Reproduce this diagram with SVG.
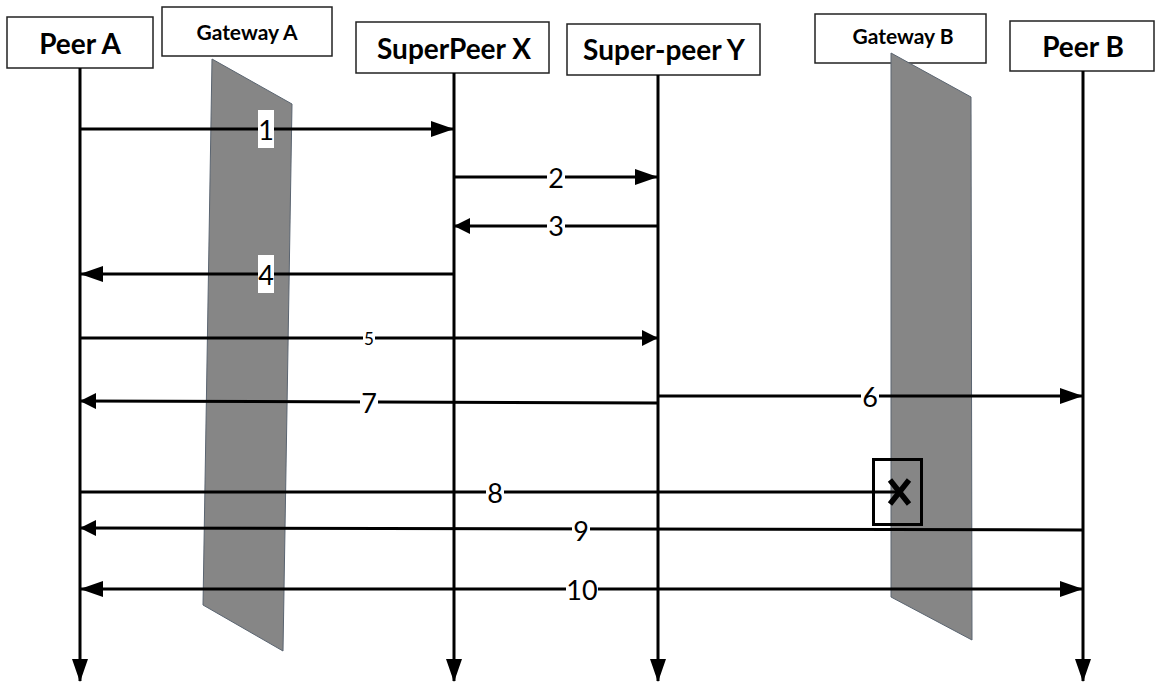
<svg xmlns="http://www.w3.org/2000/svg" width="1155" height="683" viewBox="0 0 1155 683">
  <style>
    .box { fill: #ffffff; stroke: #222222; stroke-width: 1.5; }
    .hdr { font-family: Lato, "Liberation Sans", sans-serif; font-weight: bold; fill: #000; text-anchor: middle; }
    .life { stroke: #000; stroke-width: 3; fill: none; }
    .msg { stroke: #000; stroke-width: 3; fill: none; }
    .num { font-family: Lato, "Liberation Sans", sans-serif; fill: #000; text-anchor: middle; dominant-baseline: central; }
    .bg { fill: #ffffff; }
    .gw { fill: #868686; stroke: #5a6470; stroke-width: 1; }
  </style>
  <defs>
    <marker id="ah" markerUnits="userSpaceOnUse" markerWidth="23" markerHeight="16" refX="22" refY="8" orient="auto">
      <path d="M0,0 L23,8 L0,16 z" fill="#000"/>
    </marker>
    <marker id="ahs" markerUnits="userSpaceOnUse" markerWidth="16" markerHeight="16" refX="15" refY="8" orient="auto">
      <path d="M0,0 L16,8 L0,16 z" fill="#000"/>
    </marker>
    <marker id="ahStart" markerUnits="userSpaceOnUse" markerWidth="23" markerHeight="16" refX="1" refY="8" orient="auto">
      <path d="M23,0 L0,8 L23,16 z" fill="#000"/>
    </marker>
  </defs>

  <rect width="1155" height="683" fill="#ffffff"/>

  <!-- Gateway shapes -->
  <g id="gateway-a">
    <rect class="box" x="162" y="7" width="170" height="49"/>
    <text class="hdr" x="247" y="40" font-size="21">Gateway A</text>
    <polygon class="gw" points="212,59 292,104 283,651 203,605"/>
  </g>
  <g id="gateway-b">
    <rect class="box" x="815" y="14" width="171" height="49"/>
    <polygon class="gw" points="891,53 971,97 972,640 891,597"/>
    <text class="hdr" x="903" y="44" font-size="21">Gateway B</text>
  </g>

  <!-- Participants -->
  <g id="peer-a">
    <rect class="box" x="7" y="17" width="146" height="51"/>
    <text class="hdr" x="80" y="54" font-size="28">Peer A</text>
  </g>
  <g id="superpeer-x">
    <rect class="box" x="356" y="22" width="193" height="51"/>
    <text class="hdr" x="454" y="59" font-size="28">SuperPeer X</text>
  </g>
  <g id="superpeer-y">
    <rect class="box" x="567" y="24" width="193" height="51"/>
    <text class="hdr" x="664" y="60" font-size="28">Super-peer Y</text>
  </g>
  <g id="peer-b">
    <rect class="box" x="1010" y="21" width="144" height="50"/>
    <text class="hdr" x="1083" y="57" font-size="28">Peer B</text>
  </g>

  <!-- Connectors -->
  <g id="connectors">
    <!-- lifelines -->
    <line class="life" x1="80" y1="68" x2="80" y2="681" marker-end="url(#ah)"/>
    <line class="life" x1="454" y1="73" x2="454" y2="681" marker-end="url(#ah)"/>
    <line class="life" x1="658" y1="75" x2="658" y2="681" marker-end="url(#ah)"/>
    <line class="life" x1="1083" y1="71" x2="1083" y2="681" marker-end="url(#ah)"/>

    <!-- messages -->
    <line class="msg" x1="80" y1="129" x2="453" y2="129" marker-end="url(#ah)"/>
    <line class="msg" x1="454" y1="177" x2="657" y2="177" marker-end="url(#ah)"/>
    <line class="msg" x1="658" y1="226" x2="455" y2="226" marker-end="url(#ahs)"/>
    <line class="msg" x1="454" y1="274" x2="81" y2="274" marker-end="url(#ah)"/>
    <line class="msg" x1="80" y1="338" x2="657" y2="338" marker-end="url(#ahs)"/>
    <line class="msg" x1="658" y1="403" x2="81" y2="401" marker-end="url(#ahs)"/>
    <line class="msg" x1="658" y1="396" x2="1082" y2="396" marker-end="url(#ah)"/>
    <line class="msg" x1="80" y1="492" x2="897" y2="492"/>
    <line class="msg" x1="1083" y1="530" x2="81" y2="528" marker-end="url(#ahs)"/>
    <line class="msg" x1="81" y1="589" x2="1082" y2="589" marker-start="url(#ahStart)" marker-end="url(#ah)"/>

    <!-- blocked marker -->
    <rect x="873.5" y="459.5" width="48" height="65" fill="none" stroke="#000" stroke-width="3"/>
    <path d="M890,480 L909,504 M909,480 L890,504" stroke="#000" stroke-width="5.5" fill="none"/>

    <!-- labels -->
    <rect class="bg" x="258" y="110" width="16" height="38"/>
    <text class="num" x="266" y="129" font-size="27">1</text>
    <rect class="bg" x="547" y="165" width="18" height="24"/>
    <text class="num" x="556" y="177" font-size="27">2</text>
    <rect class="bg" x="547" y="213" width="18" height="24"/>
    <text class="num" x="556" y="225" font-size="27">3</text>
    <rect class="bg" x="258" y="255" width="16" height="38"/>
    <text class="num" x="266" y="274" font-size="27">4</text>
    <rect class="bg" x="363" y="330" width="12" height="16"/>
    <text class="num" x="369" y="338" font-size="17">5</text>
    <rect class="bg" x="861" y="384" width="18" height="24"/>
    <text class="num" x="870" y="396" font-size="27">6</text>
    <rect class="bg" x="360" y="390" width="18" height="24"/>
    <text class="num" x="369" y="402" font-size="27">7</text>
    <rect class="bg" x="486" y="480" width="18" height="24"/>
    <text class="num" x="495" y="492" font-size="27">8</text>
    <rect class="bg" x="572" y="518" width="18" height="24"/>
    <text class="num" x="581" y="530" font-size="27">9</text>
    <rect class="bg" x="566" y="577" width="32" height="24"/>
    <text class="num" x="582" y="589" font-size="27">10</text>
  </g>
</svg>
